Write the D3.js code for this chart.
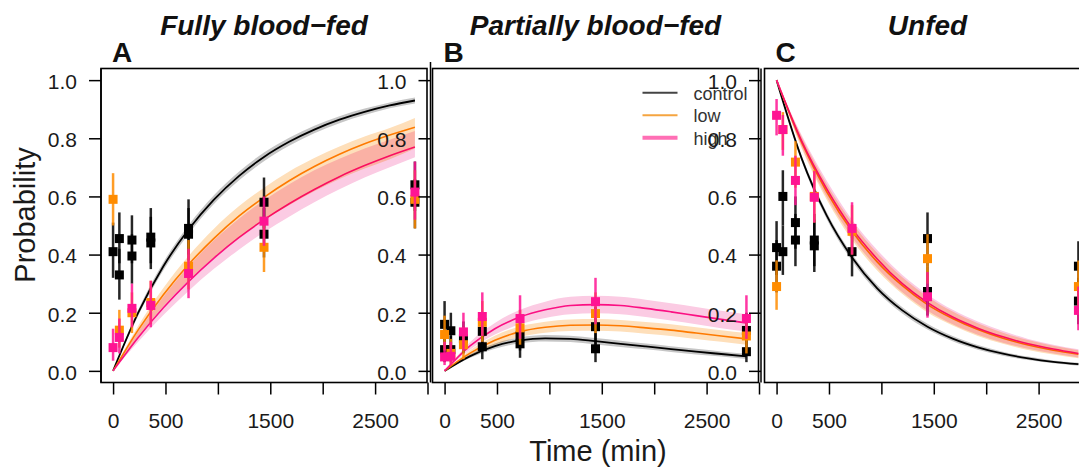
<!DOCTYPE html>
<html>
<head>
<meta charset="utf-8">
<script src="https://cdn.jsdelivr.net/npm/d3@7"></script>
<style>
  html, body { margin: 0; padding: 0; background: #fff; }
  svg { display: block; font-family: "Liberation Sans", Arial, Helvetica, sans-serif; }
</style>
</head>
<body>
<svg id="chart" width="1079" height="467"></svg>
<script>
// ---------------- data ----------------
const panelTitles = ["Fully blood\u2212fed", "Partially blood\u2212fed", "Unfed"];
const panelLetters = ["A", "B", "C"];
const groups = ["control", "low", "high"];
const xTicks = [0, 500, 1000, 1500, 2000, 2500, 3000];
const xTickLabels = [0, 500, 1500, 2500];
const yTicks = [0, 0.2, 0.4, 0.6, 0.8, 1.0];
const xLabel = "Time (min)";
const yLabel = "Probability";

// times at which the fitted curves are tabulated (min)
const fitTimes = [0, 240, 480, 720, 960, 1200, 1440, 1680, 1920, 2160, 2400, 2640, 2880];

// fitted probabilities with lower / upper confidence limits
const aControlFit = [0, .200, .360, .486, .588, .670, .736, .788, .830, .864, .891, .913, .930];
const aControlLo  = [0, .190, .346, .471, .573, .655, .721, .774, .817, .852, .880, .903, .920];
const aControlHi  = [0, .210, .374, .501, .603, .685, .751, .802, .843, .876, .902, .923, .940];
const aLowFit     = [0, .141, .262, .366, .455, .532, .597, .654, .703, .745, .781, .811, .838];
const aLowLo      = [0, .118, .222, .312, .390, .458, .518, .570, .618, .660, .696, .728, .765];
const aLowHi      = [0, .155, .285, .395, .488, .566, .630, .686, .732, .772, .806, .835, .870];
const aHighFit    = [0, .115, .217, .307, .387, .458, .520, .575, .624, .668, .706, .740, .770];
const aHighLo     = [0, .100, .192, .275, .350, .417, .477, .530, .580, .625, .665, .700, .735];
const aHighHi     = [0, .135, .255, .360, .448, .523, .587, .642, .690, .730, .765, .795, .825];

const bControlFit = [0, .050, .085, .105, .112, .110, .102, .093, .084, .075, .066, .058, .050];
const bControlLo  = [0, .044, .076, .095, .101, .099, .091, .082, .074, .065, .056, .049, .041];
const bControlHi  = [0, .056, .094, .115, .123, .121, .113, .104, .094, .085, .076, .067, .059];
const bLowFit     = [0, .060, .105, .135, .150, .157, .158, .155, .148, .140, .130, .120, .110];
const bLowLo      = [0, .050, .089, .117, .131, .137, .138, .135, .128, .120, .110, .100, .090];
const bLowHi      = [0, .070, .121, .153, .169, .177, .178, .175, .168, .160, .150, .140, .130];
const bHighFit    = [0, .085, .145, .185, .210, .225, .228, .225, .215, .203, .190, .177, .165];
const bHighLo     = [0, .072, .125, .160, .182, .195, .198, .195, .185, .173, .160, .147, .135];
const bHighHi     = [0, .098, .165, .210, .238, .255, .258, .255, .245, .233, .220, .207, .195];

const cControlFit = [1, .730, .533, .390, .284, .208, .152, .111, .081, .059, .043, .031, .023];
const cControlLo  = [1, .720, .521, .378, .272, .197, .142, .102, .073, .052, .037, .026, .018];
const cControlHi  = [1, .740, .545, .402, .296, .219, .162, .120, .089, .066, .049, .036, .028];
const cLowFit     = [1, .785, .615, .480, .375, .293, .228, .180, .142, .112, .089, .071, .057];
const cLowLo      = [1, .765, .588, .450, .345, .264, .201, .156, .120, .093, .072, .056, .043];
const cLowHi      = [1, .805, .642, .510, .405, .322, .255, .204, .164, .131, .106, .086, .071];
const cHighFit    = [1, .790, .625, .490, .385, .300, .235, .185, .147, .117, .093, .075, .060];
const cHighLo     = [1, .770, .597, .460, .354, .270, .207, .160, .124, .097, .076, .060, .046];
const cHighHi     = [1, .810, .653, .520, .416, .330, .263, .210, .170, .137, .110, .090, .074];

// observed proportions: [time, proportion, lower, upper]
const aControlObs = [[0,.41,.32,.51],[60,.455,.37,.545],[60,.33,.245,.42],[180,.45,.37,.535],[180,.395,.30,.47],
  [360,.46,.37,.56],[360,.44,.35,.53],[720,.49,.40,.59],[720,.47,.38,.56],[1440,.58,.49,.665],[1440,.47,.39,.56],
  [2880,.64,.55,.72],[2880,.58,.49,.66]];
const aLowObs = [[0,.59,.50,.68],[60,.14,.08,.21],[180,.20,.13,.27],[360,.235,.16,.31],[720,.36,.28,.45],
  [1440,.425,.34,.52],[2880,.59,.49,.69]];
const aHighObs = [[0,.08,.035,.145],[60,.115,.06,.18],[180,.215,.15,.30],[360,.225,.15,.31],[720,.335,.25,.42],
  [1440,.515,.43,.60],[2880,.615,.52,.72]];

const bControlObs = [[0,.16,.10,.24],[0,.073,.03,.13],[60,.138,.08,.20],[60,.073,.03,.12],[180,.11,.06,.17],
  [360,.136,.08,.20],[360,.083,.04,.13],[720,.12,.07,.18],[720,.093,.045,.15],[1440,.152,.09,.22],[1440,.076,.03,.13],
  [2880,.139,.08,.20],[2880,.066,.03,.11]];
const bLowObs = [[0,.125,.07,.19],[60,.06,.02,.11],[180,.09,.04,.15],[360,.167,.10,.24],[720,.148,.09,.21],
  [1440,.197,.13,.27],[2880,.12,.06,.19]];
const bHighObs = [[0,.048,.02,.10],[60,.05,.02,.10],[180,.134,.07,.20],[360,.187,.12,.27],[720,.18,.11,.26],
  [1440,.238,.16,.32],[2880,.18,.11,.26]];

const cControlObs = [[0,.424,.33,.515],[0,.36,.27,.45],[60,.60,.50,.69],[60,.41,.33,.50],[180,.51,.42,.60],
  [180,.45,.36,.54],[360,.45,.36,.54],[360,.43,.34,.52],[720,.41,.325,.50],[1440,.455,.36,.545],[1440,.273,.19,.36],
  [2880,.36,.27,.446],[2880,.24,.16,.32]];
const cLowObs = [[0,.29,.21,.38],[60,.83,.76,.89],[180,.718,.63,.79],[360,.60,.51,.69],[720,.48,.40,.57],
  [1440,.386,.30,.47],[2880,.29,.21,.38]];
const cHighObs = [[0,.879,.81,.935],[60,.83,.74,.88],[180,.655,.57,.74],[360,.597,.51,.687],[720,.49,.40,.58],
  [1440,.255,.183,.34],[2880,.208,.14,.29]];

// ---------------- styling / layout ----------------
const lineColor = { control: "#000000", low: "#ff8c00", high: "#ff1493" };
const bandColor = { control: "#c6c6c6", low: "#fedfba", high: "#fbcbe3" };
const legendStroke = { control: ["#444444", 2], low: ["#f5a540", 2], high: ["#ff6fb5", 4] };

const panelTop = 68.5, panelBottom = 382.5;
const layout = [
  { left: 101,   right: 427,    axisX: 101,   axisTop: 68.5 },
  { left: 432.5, right: 758.5,  axisX: 430.5, axisTop: 62 },
  { left: 764.5, right: 1090.5, axisX: 761,   axisTop: 68.5 }
];

const panels = [
  { fit: { control: [aControlFit, aControlLo, aControlHi], low: [aLowFit, aLowLo, aLowHi], high: [aHighFit, aHighLo, aHighHi] },
    obs: { control: aControlObs, low: aLowObs, high: aHighObs } },
  { fit: { control: [bControlFit, bControlLo, bControlHi], low: [bLowFit, bLowLo, bLowHi], high: [bHighFit, bHighLo, bHighHi] },
    obs: { control: bControlObs, low: bLowObs, high: bHighObs }, legend: true },
  { fit: { control: [cControlFit, cControlLo, cControlHi], low: [cLowFit, cLowLo, cLowHi], high: [cHighFit, cHighLo, cHighHi] },
    obs: { control: cControlObs, low: cLowObs, high: cHighObs } }
];

// ---------------- drawing ----------------
const svg = d3.select("#chart");
svg.append("rect").attr("width", 1079).attr("height", 467).attr("fill", "#fff");

const y = d3.scaleLinear().domain([-0.04, 1.04]).range([panelBottom, panelTop]);
const tickFont = 21;
const sq = 9;

panels.forEach((p, i) => {
  const L = layout[i];
  const x = d3.scaleLinear().domain([-115.2, 2995.2]).range([L.left, L.right]);
  const g = svg.append("g");

  // y axis (left side of the panel)
  const yAxis = d3.axisLeft(y).tickValues(yTicks).tickSize(12).tickPadding(12)
    .tickFormat(d3.format(".1f")).tickSizeOuter(0);
  const ya = g.append("g").attr("transform", `translate(${L.axisX},0)`).call(yAxis);
  ya.select(".domain").remove();
  ya.selectAll("line").attr("stroke", "#000").attr("stroke-width", 1.5);
  ya.selectAll("text").attr("font-size", tickFont).attr("fill", "#1a1a1a").attr("dy", "0.4em");
  g.append("line").attr("x1", L.axisX).attr("x2", L.axisX)
    .attr("y1", L.axisTop).attr("y2", panelBottom).attr("stroke", "#000").attr("stroke-width", 1.5);

  // plot region
  const clipId = "clip" + i;
  svg.append("clipPath").attr("id", clipId).append("rect")
    .attr("x", L.left).attr("y", panelTop).attr("width", L.right - L.left).attr("height", panelBottom - panelTop);
  const plot = g.append("g").attr("clip-path", `url(#${clipId})`);

  const line = d3.line().x((d) => x(d[0])).y((d) => y(d[1])).curve(d3.curveMonotoneX);
  const area = d3.area().x((d) => x(d[0])).y0((d) => y(d[1])).y1((d) => y(d[2])).curve(d3.curveMonotoneX);

  // fitted curves, then their confidence bands multiplied on top
  groups.forEach((grp) => {
    const [fit] = p.fit[grp];
    plot.append("path").datum(fitTimes.map((t, k) => [t, fit[k]]))
      .attr("d", line).attr("fill", "none").attr("stroke", lineColor[grp])
      .attr("stroke-width", grp === "control" ? 1.8 : 1.6);
  });
  groups.forEach((grp) => {
    const [, lo, hi] = p.fit[grp];
    plot.append("path").datum(fitTimes.map((t, k) => [t, lo[k], hi[k]]))
      .attr("d", area).attr("fill", bandColor[grp]).attr("stroke", "none")
      .style("mix-blend-mode", "multiply");
  });

  // observations with error bars
  groups.forEach((grp) => {
    const pts = p.obs[grp];
    plot.selectAll(null).data(pts).enter().append("line")
      .attr("x1", (d) => x(d[0])).attr("x2", (d) => x(d[0]))
      .attr("y1", (d) => y(d[2])).attr("y2", (d) => y(d[3]))
      .attr("stroke", lineColor[grp]).attr("stroke-width", 2.5).attr("stroke-opacity", 0.85);
    plot.selectAll(null).data(pts).enter().append("rect")
      .attr("x", (d) => x(d[0]) - sq / 2).attr("y", (d) => y(d[1]) - sq / 2)
      .attr("width", sq).attr("height", sq).attr("fill", lineColor[grp]);
  });

  // box
  g.append("rect").attr("x", L.left).attr("y", panelTop)
    .attr("width", L.right - L.left).attr("height", panelBottom - panelTop)
    .attr("fill", "none").attr("stroke", "#000").attr("stroke-width", 1.6);

  // x axis
  const xAxis = d3.axisBottom(x).tickValues(xTicks).tickSize(12).tickPadding(19).tickSizeOuter(0)
    .tickFormat((d) => (xTickLabels.includes(d) ? String(d) : ""));
  const xa = g.append("g").attr("transform", `translate(0,${panelBottom})`).call(xAxis);
  xa.select(".domain").remove();
  xa.selectAll("line").attr("stroke", "#000").attr("stroke-width", 1.5);
  xa.selectAll("text").attr("font-size", tickFont).attr("fill", "#1a1a1a");

  // title and panel letter
  g.append("text").attr("x", (L.left + L.right) / 2).attr("y", 35).attr("text-anchor", "middle")
    .attr("font-size", 28).attr("font-weight", "bold").attr("font-style", "italic").attr("fill", "#111")
    .text(panelTitles[i]);
  g.append("text").attr("x", x(0) - 1).attr("y", 62).attr("font-size", 28).attr("font-weight", "bold")
    .attr("fill", "#111").text(panelLetters[i]);

  // legend
  if (p.legend) {
    const lg = g.append("g").attr("transform", `translate(${L.left + 210},92.7)`);
    groups.forEach((grp, k) => {
      lg.append("line").attr("x1", 0).attr("x2", 35).attr("y1", k * 22.5).attr("y2", k * 22.5)
        .attr("stroke", legendStroke[grp][0]).attr("stroke-width", legendStroke[grp][1]);
      lg.append("text").attr("x", 51).attr("y", k * 22.5 + 7).attr("font-size", 18)
        .attr("fill", "#333").text(grp);
    });
  }
});

// axis titles
svg.append("text").attr("x", 598).attr("y", 461).attr("text-anchor", "middle")
  .attr("font-size", 29).attr("fill", "#1a1a1a").text(xLabel);
svg.append("text").attr("transform", "translate(35,215) rotate(-90)").attr("text-anchor", "middle")
  .attr("font-size", 29).attr("fill", "#1a1a1a").text(yLabel);
</script>
</body>
</html>
